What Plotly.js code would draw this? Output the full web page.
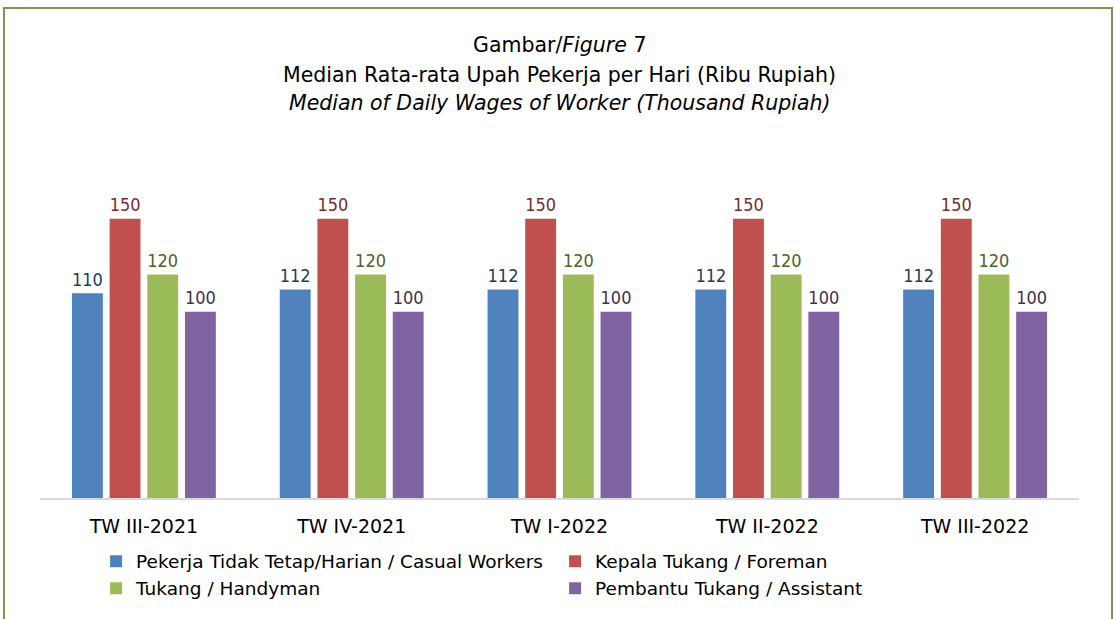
<!DOCTYPE html>
<html>
<head>
<meta charset="utf-8">
<script src="https://cdn.plot.ly/plotly-3.0.1.min.js"></script>
<style>
  html, body { margin: 0; padding: 0; background: #ffffff; }
  #frame { position: absolute; left: 3px; top: 7px; width: 1110px; height: 700px; border: 2px solid #938953; box-sizing: border-box; }
  #chart { position: absolute; left: 0; top: 0; width: 1114px; height: 619px; }
</style>
</head>
<body>
<div id="frame"></div>
<div id="chart"></div>
<script>
const categories = ["TW III-2021", "TW IV-2021", "TW I-2022", "TW II-2022", "TW III-2022"];
const seriesNames = [
  "Pekerja Tidak Tetap/Harian / Casual Workers",
  "Kepala Tukang / Foreman",
  "Tukang / Handyman",
  "Pembantu Tukang / Assistant"
];
const casualWorkers = [110, 112, 112, 112, 112];
const foreman = [150, 150, 150, 150, 150];
const handyman = [120, 120, 120, 120, 120];
const assistant = [100, 100, 100, 100, 100];
const titleLines = [
  "Gambar/<i>Figure</i> 7",
  "Median Rata-rata Upah Pekerja per Hari (Ribu Rupiah)",
  "<i>Median of Daily Wages of Worker (Thousand Rupiah)</i>"
];

const seriesValues = [casualWorkers, foreman, handyman, assistant];
const barColors = ["#4F81BD", "#C0504D", "#9BBB59", "#8064A2"];
const labelColors = ["#1F3A60", "#772C2A", "#4F6228", "#3F3151"];
const FONT = "DejaVu Sans, Verdana, sans-serif";
const LABEL_FONT = "DejaVu Sans Condensed, DejaVu Sans, sans-serif";

const traces = seriesValues.map((vals, i) => ({
  type: "bar",
  name: seriesNames[i],
  x: categories,
  y: vals,
  text: vals.map(String),
  textposition: "outside",
  cliponaxis: false,
  textfont: { family: LABEL_FONT, size: 20.5, color: labelColors[i] },
  marker: { color: barColors[i], line: { width: 0 } },
  hoverinfo: "x+y+name"
}));

const titleY = [1.52, 1.419, 1.326];
const annotations = titleLines.map((t, i) => ({
  text: t, xref: "paper", yref: "paper", x: 0.5, y: titleY[i],
  xanchor: "center", yanchor: "middle", showarrow: false,
  font: { family: FONT, size: 20.5, color: "#000000" }
}));

const layout = {
  width: 1114, height: 619,
  margin: { l: 40, r: 35, t: 200, b: 121, autoexpand: false },
  paper_bgcolor: "rgba(0,0,0,0)",
  plot_bgcolor: "rgba(0,0,0,0)",
  barmode: "group",
  bargap: 0.275,
  bargroupgap: 0.18,
  showlegend: true,
  legend: {
    orientation: "h",
    x: 0.054, y: -0.15, xanchor: "left", yanchor: "top",
    entrywidth: 414, entrywidthmode: "pixels",
    font: { family: FONT, size: 18.5, color: "#000000" },
    bgcolor: "rgba(0,0,0,0)", traceorder: "normal"
  },
  xaxis: {
    type: "category",
    showgrid: false, zeroline: false,
    showline: true, linecolor: "#D9D9D9", linewidth: 2,
    ticks: "", ticklen: 0, ticklabelstandoff: 10,
    tickfont: { family: FONT, size: 19, color: "#000000" }
  },
  yaxis: {
    range: [0, 160], visible: false, showgrid: false, zeroline: false, fixedrange: true
  },
  annotations: annotations
};

Plotly.newPlot("chart", traces, layout, { displayModeBar: false, staticPlot: true });
</script>
</body>
</html>
